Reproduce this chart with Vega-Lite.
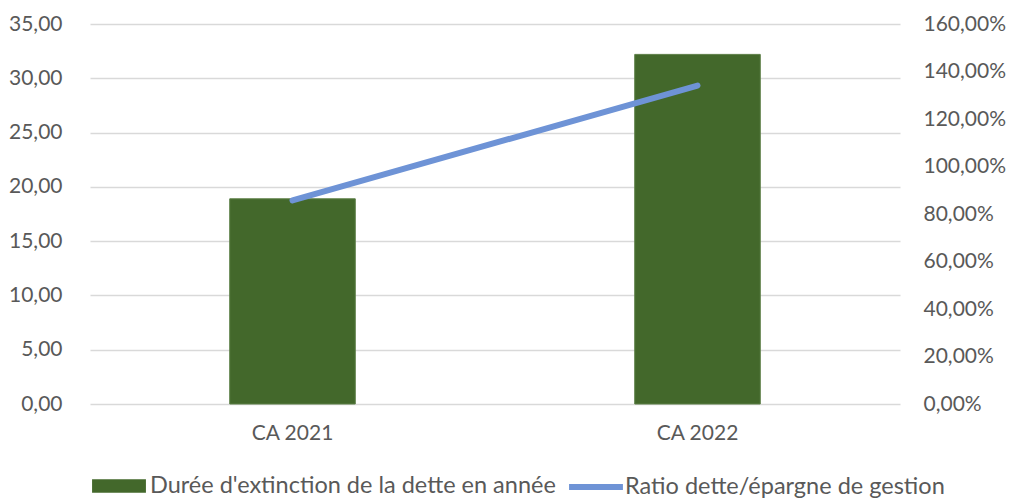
{
  "$schema": "https://vega.github.io/schema/vega-lite/v6.json",
  "width": 810,
  "height": 380,
  "autosize": {"type": "none"},
  "padding": {"left": 90, "top": 24, "right": 110, "bottom": 95},
  "background": "white",
  "config": {
    "view": {"stroke": null},
    "font": "Lato",
    "axis": {"labelFont": "Lato", "labelFontSize": 21, "labelColor": "#595959", "domain": false, "ticks": false, "title": null},
    "legend": {"labelFont": "Lato", "labelFontSize": 23.5, "labelColor": "#595959", "labelLimit": 800}
  },
  "data": {
    "values": [
      {"periode": "CA 2021", "duree": 18.9, "ratio": 0.857},
      {"periode": "CA 2022", "duree": 32.2, "ratio": 1.341}
    ]
  },
  "encoding": {
    "x": {
      "field": "periode", "type": "nominal",
      "scale": {"paddingInner": 0.69, "paddingOuter": 0.345},
      "axis": {"labelAngle": 0, "labelPadding": 18, "grid": false}
    }
  },
  "layer": [
    {
      "mark": {"type": "bar", "stroke": "#5d7f47", "strokeWidth": 1},
      "encoding": {
        "y": {
          "field": "duree", "type": "quantitative",
          "scale": {"domain": [0, 35], "nice": false},
          "axis": {
            "values": [0, 5, 10, 15, 20, 25, 30, 35],
            "labelExpr": "replace(format(datum.value, '.2f'), '.', ',')",
            "grid": true, "gridColor": "#d9d9d9", "gridWidth": 1.5,
            "labelPadding": 28
          }
        },
        "fill": {
          "datum": "Durée d'extinction de la dette en année",
          "scale": {"range": ["#43682B"]},
          "legend": {
            "title": null, "orient": "bottom",
            "symbolType": "M-1,-0.25H1V0.25H-1Z",
            "symbolSize": 2900, "symbolStrokeWidth": 0,
            "labelOffset": 4, "offset": 14, "padding": 2
          }
        }
      }
    },
    {
      "mark": {"type": "line", "strokeWidth": 6, "strokeCap": "round", "color": "#6E93D6"},
      "encoding": {
        "y": {
          "field": "ratio", "type": "quantitative",
          "scale": {"domain": [0, 1.6], "nice": false},
          "axis": {
            "orient": "right",
            "values": [0, 0.2, 0.4, 0.6, 0.8, 1.0, 1.2, 1.4, 1.6],
            "labelExpr": "replace(format(datum.value, '.2%'), '.', ',')",
            "grid": false, "labelPadding": 23
          }
        },
        "stroke": {
          "datum": "Ratio dette/épargne de gestion",
          "scale": {"range": ["#6E93D6"]},
          "legend": {
            "title": null, "orient": "bottom",
            "symbolType": "M-1,-0.11H1V0.11H-1Z",
            "symbolFillColor": "#6E93D6",
            "symbolSize": 2900, "symbolStrokeWidth": 0,
            "labelOffset": 2, "offset": 14, "padding": 3
          }
        }
      }
    }
  ],
  "resolve": {"scale": {"y": "independent"}}
}
